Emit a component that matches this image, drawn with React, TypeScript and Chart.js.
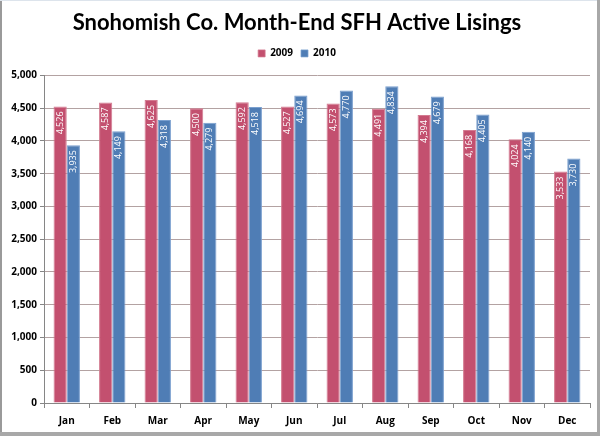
import React, { useEffect, useRef } from "react";
import { Chart, registerables, layouts } from "chart.js";

Chart.register(...registerables);

const months = ["Jan", "Feb", "Mar", "Apr", "May", "Jun", "Jul", "Aug", "Sep", "Oct", "Nov", "Dec"];
const values2009 = [4526, 4587, 4625, 4500, 4592, 4527, 4573, 4491, 4394, 4168, 4024, 3533];
const values2010 = [3935, 4149, 4318, 4279, 4518, 4694, 4770, 4834, 4679, 4405, 4140, 3730];
const seriesNames = ["2009", "2010"];
const titleText = "Snohomish Co. Month-End SFH Active Lisings";

const fmt = (v: number) => v.toLocaleString("en-US");

const framePlugin = {
  id: "frame",
  beforeDraw(chart: any) {
    const { ctx, width, height } = chart;
    ctx.save();
    ctx.fillStyle = "#ffffff";
    ctx.fillRect(0, 0, width, height);
    ctx.fillStyle = "#9a9a9a";
    ctx.fillRect(0, 0, 2, height);
    ctx.fillStyle = "#dde4ec";
    ctx.fillRect(0, 0, width, 1);
    ctx.fillStyle = "#a8a8a8";
    ctx.fillRect(width - 3, 0, 3, height);
    ctx.fillRect(0, height - 4, width, 4);
    ctx.restore();
  },
};

const spacerPlugin = {
  id: "spacer",
  start(chart: any) {
    const box: any = {
      position: "top",
      weight: 100,
      fullSize: true,
      options: {},
      width: 0,
      height: 7,
      left: 0,
      top: 0,
      right: 0,
      bottom: 0,
      isHorizontal: () => true,
      update(maxWidth: number) {
        this.width = maxWidth;
        this.height = 7;
        this.left = 0;
        this.right = maxWidth;
      },
      draw() {},
    };
    layouts.addBox(chart, box);
  },
};

const labelPlugin = {
  id: "barLabels",
  afterDatasetsDraw(chart: any) {
    const { ctx } = chart;
    ctx.save();
    ctx.fillStyle = "#ffffff";
    ctx.font = "9px 'Open Sans', sans-serif";
    ctx.textAlign = "right";
    ctx.textBaseline = "middle";
    chart.data.datasets.forEach((ds: any, di: number) => {
      const meta = chart.getDatasetMeta(di);
      meta.data.forEach((bar: any, i: number) => {
        ctx.save();
        ctx.translate(bar.x, bar.y + 5);
        ctx.rotate(-Math.PI / 2);
        ctx.fillText(fmt(ds.data[i]), 0, 0);
        ctx.restore();
      });
    });
    ctx.restore();
  },
};

export default function App() {
  const ref = useRef<HTMLCanvasElement>(null);
  useEffect(() => {
    if (!ref.current) return;
    const chart = new Chart(ref.current, {
      type: "bar",
      data: {
        labels: months,
        datasets: [
          {
            label: seriesNames[0],
            data: values2009,
            backgroundColor: "#c3506f",
            borderColor: "#d37a90",
            borderWidth: { top: 1, left: 1, right: 1, bottom: 0 } as any,
            categoryPercentage: 0.58,
            barPercentage: 1,
          },
          {
            label: seriesNames[1],
            data: values2010,
            backgroundColor: "#4f7db5",
            borderColor: "#7aa0cf",
            borderWidth: { top: 1, left: 1, right: 1, bottom: 0 } as any,
            categoryPercentage: 0.58,
            barPercentage: 1,
          },
        ],
      },
      options: {
        responsive: false,
        animation: false,
        layout: { padding: { left: 4, right: 10, top: 0, bottom: 0 } },
        plugins: {
          title: {
            display: true,
            text: titleText,
            color: "#000000",
            font: { family: "Lato", size: 22, weight: "bold" },
            padding: { top: 10, bottom: 4 },
          },
          legend: {
            display: true,
            labels: {
              boxWidth: 7,
              boxHeight: 7,
              color: "#000000",
              font: { family: "'Open Sans'", size: 10, weight: "bold" },
              padding: 8,
            },
          },
          tooltip: { enabled: false },
        },
        scales: {
          x: {
            grid: {
              offset: true,
              drawOnChartArea: false,
              drawTicks: true,
              tickLength: 5,
              color: "#868686",
            },
            border: { color: "#868686" },
            ticks: {
              color: "#000000",
              font: { family: "'Open Sans'", size: 10, weight: "bold" },
              padding: 7,
            },
            afterFit(scale: any) {
              scale.height = 33;
            },
          },
          y: {
            min: 0,
            max: 5000,
            ticks: {
              stepSize: 500,
              color: "#000000",
              font: { family: "'Open Sans'", size: 10, weight: "bold" },
              padding: 3,
              callback: (v: any) => fmt(Number(v)),
            },
            grid: {
              color: "#b3a2a2",
              tickLength: 4,
              tickColor: "#868686",
            },
            border: { color: "#868686" },
            afterFit(scale: any) {
              scale.width = 40;
            },
          },
        },
      },
      plugins: [framePlugin, spacerPlugin, labelPlugin],
    });
    return () => chart.destroy();
  }, []);
  return (
    <div style={{ position: "fixed", left: 0, top: 0, width: 600, height: 436 }}>
      <canvas ref={ref} width={600} height={436} style={{ display: "block" }} />
    </div>
  );
}
